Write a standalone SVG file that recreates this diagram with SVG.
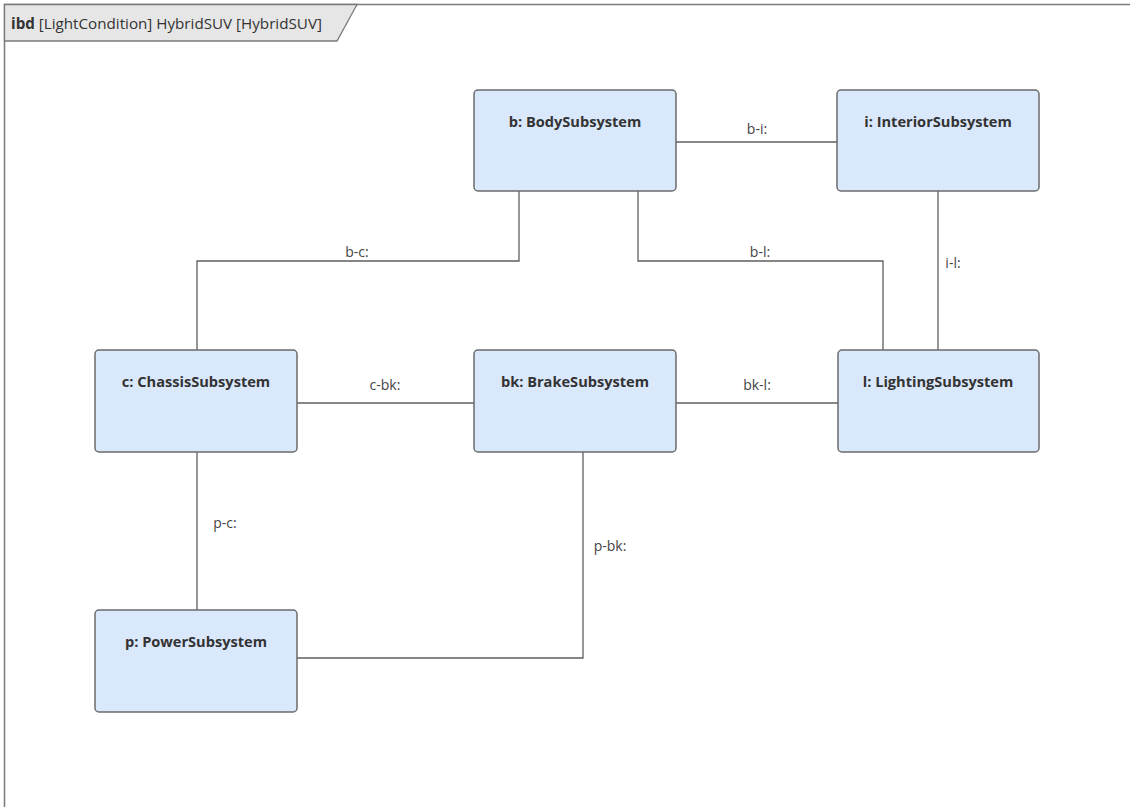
<svg xmlns="http://www.w3.org/2000/svg" width="1130" height="807" viewBox="0 0 1130 807">
<style>
.frame{fill:none;stroke:#7a7a7a;stroke-width:1.5}
.node rect{fill:#dae8fc;stroke:#6b6b6b;stroke-width:1.5}
.node text{font-family:"Open Sans","Liberation Sans",sans-serif;font-size:14.6px;font-weight:bold;fill:#333;text-anchor:middle}
.conn path{fill:none;stroke:#5f5f5f;stroke-width:1.3}
.lbl{font-family:"Open Sans","Liberation Sans",sans-serif;font-size:14px;fill:#444;text-anchor:middle}
.hdr{font-family:"Open Sans","Liberation Sans",sans-serif;font-size:15.2px;fill:#333}
</style>
<rect x="0" y="0" width="1130" height="807" fill="#fff"/>
<g id="frame">
<path class="frame" d="M4.5,807 V4.5 H1130"/>
<path d="M4.5,4.5 H357 L337,41 H4.5 Z" fill="#e6e6e6" stroke="#7a7a7a" stroke-width="1.3"/>
<text class="hdr" x="11" y="29"><tspan font-weight="bold">ibd</tspan> [LightCondition] HybridSUV [HybridSUV]</text>
</g>
<g id="connectors" class="conn">
<path d="M676,142 H837"/>
<path d="M519,191 V261 H197 V350"/>
<path d="M638,191 V261 H883 V350"/>
<path d="M938,191 V350"/>
<path d="M297,403 H474"/>
<path d="M676,403 H838"/>
<path d="M197,452 V610"/>
<path d="M297,658 H583 V452"/>
<text class="lbl" x="757" y="134">b-i:</text>
<text class="lbl" x="357" y="257">b-c:</text>
<text class="lbl" x="760" y="257">b-l:</text>
<text class="lbl" x="953" y="268">i-l:</text>
<text class="lbl" x="385" y="390">c-bk:</text>
<text class="lbl" x="757" y="390">bk-l:</text>
<text class="lbl" x="225" y="528">p-c:</text>
<text class="lbl" x="610" y="551">p-bk:</text>
</g>
<g id="b" class="node"><rect x="474" y="90" width="202" height="101" rx="4"/><text x="575" y="127">b: BodySubsystem</text></g>
<g id="i" class="node"><rect x="837" y="90" width="202" height="101" rx="4"/><text x="938" y="127">i: InteriorSubsystem</text></g>
<g id="c" class="node"><rect x="95" y="350" width="202" height="102" rx="4"/><text x="196" y="387">c: ChassisSubsystem</text></g>
<g id="bk" class="node"><rect x="474" y="350" width="202" height="102" rx="4"/><text x="575" y="387">bk: BrakeSubsystem</text></g>
<g id="l" class="node"><rect x="838" y="350" width="201" height="102" rx="4"/><text x="938" y="387">l: LightingSubsystem</text></g>
<g id="p" class="node"><rect x="95" y="610" width="202" height="102" rx="4"/><text x="196" y="647">p: PowerSubsystem</text></g>
</svg>
